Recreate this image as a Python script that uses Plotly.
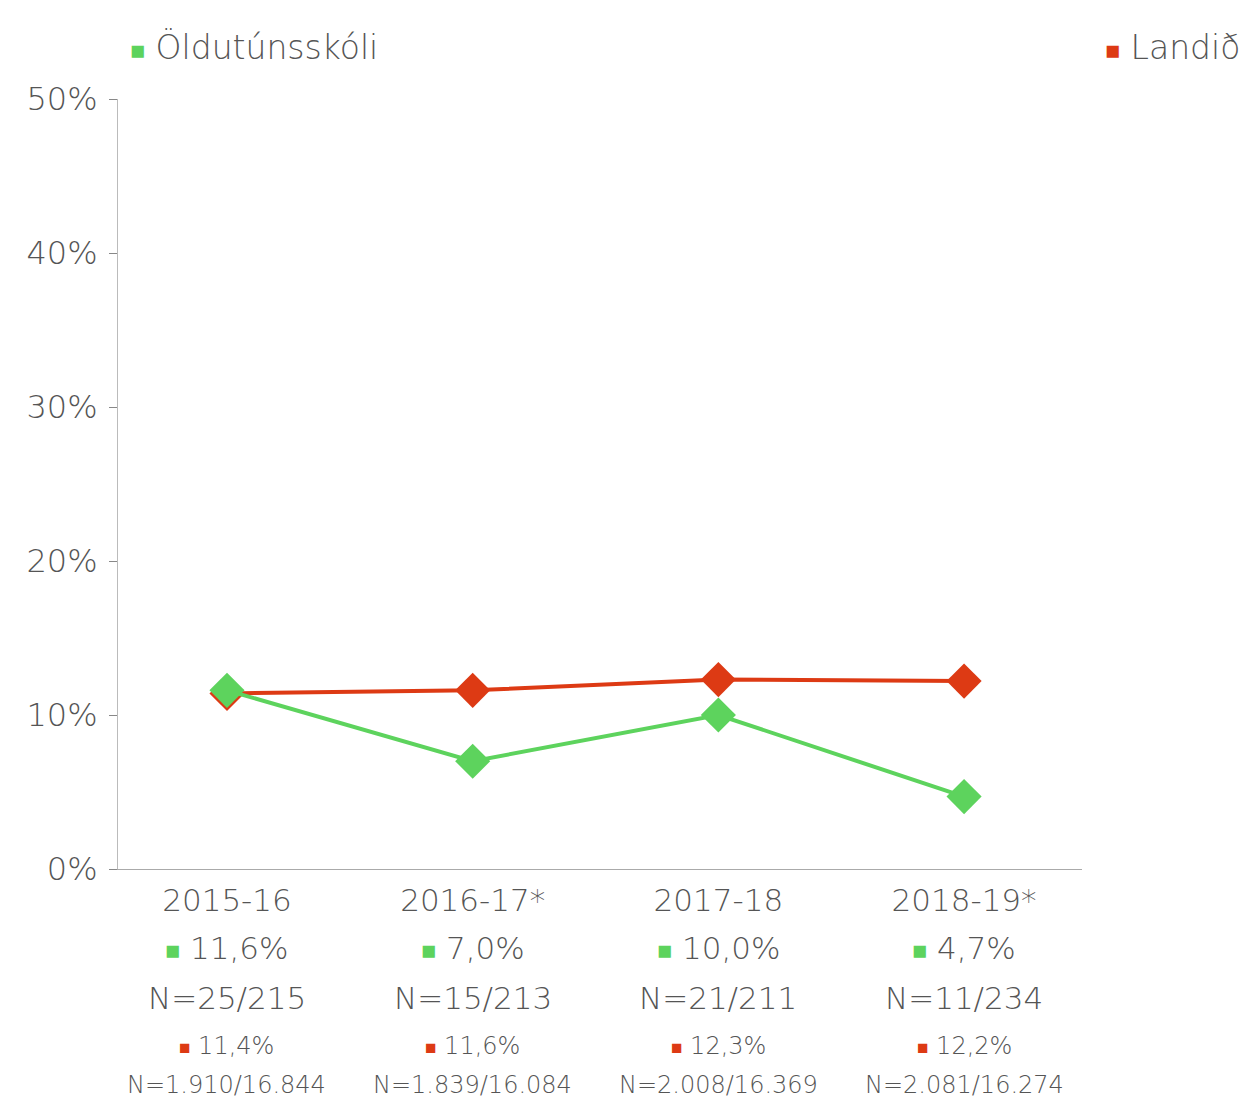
import plotly.graph_objects as go

categories = ["2015-16", "2016-17*", "2017-18", "2018-19*"]
school_name = "Öldutúnsskóli"
country_name = "Landið"
school_values = [11.6, 7.0, 10.0, 4.7]
country_values = [11.4, 11.6, 12.3, 12.2]
school_n = ["N=25/215", "N=15/213", "N=21/211", "N=11/234"]
country_n = ["N=1.910/16.844", "N=1.839/16.084", "N=2.008/16.369", "N=2.081/16.274"]
y_ticks = [0, 10, 20, 30, 40, 50]

GREEN = "#5dd35d"
RED = "#dd3a14"
TEXT = "#555555"
FONT = "DejaVu Sans"

def fmt(v):
    return f"{v:.1f}".replace(".", ",") + "%"

x_idx = list(range(len(categories)))

fig = go.Figure()
fig.add_trace(go.Scatter(
    x=x_idx, y=country_values, mode="lines+markers", name=country_name,
    line=dict(color=RED, width=4),
    marker=dict(symbol="diamond", size=27, color=RED),
))
fig.add_trace(go.Scatter(
    x=x_idx, y=school_values, mode="lines+markers", name=school_name,
    line=dict(color=GREEN, width=4),
    marker=dict(symbol="diamond", size=27, color=GREEN),
))

annotations = []
for i in x_idx:
    rows = [
        (f"<span style='font-size:25px;color:{GREEN}'>■</span> {fmt(school_values[i])}", 31, -79),
        (school_n[i], 31, -129),
        (f"<span style='font-size:19px;color:{RED}'>■</span> {fmt(country_values[i])}", 24, -177),
        (country_n[i], 24, -216),
    ]
    for txt, fs, ys in rows:
        annotations.append(dict(
            x=i, y=0, xref="x", yref="paper", text=txt, showarrow=False,
            xanchor="center", yanchor="middle", yshift=ys,
            font=dict(family=FONT, size=fs, color=TEXT, weight=200),
        ))

annotations.append(dict(
    x=0.0104, y=1.0675, xref="paper", yref="paper", xanchor="left", yanchor="middle",
    showarrow=False,
    text=f"<span style='font-size:25px;color:{GREEN}'>■</span> {school_name}",
    font=dict(family=FONT, size=33, color=TEXT, weight=200),
))
annotations.append(dict(
    x=1.0218, y=1.0675, xref="paper", yref="paper", xanchor="left", yanchor="middle",
    showarrow=False,
    text=f"<span style='font-size:25px;color:{RED}'>■</span> {country_name}",
    font=dict(family=FONT, size=33, color=TEXT, weight=200),
))

fig.update_layout(
    width=1242, height=1090,
    margin=dict(l=110, r=168, t=91, b=229),
    plot_bgcolor="white", paper_bgcolor="white",
    showlegend=False,
    annotations=annotations,
    font=dict(family=FONT, color=TEXT, weight=200),
)
fig.update_xaxes(
    range=[-0.4436, 3.48],
    tickmode="array", tickvals=x_idx, ticktext=categories,
    tickfont=dict(family=FONT, size=31, color=TEXT, weight=200),
    showline=True, linecolor="#aaaaaa", linewidth=1,
    showgrid=False, zeroline=False, ticks="", ticklabelstandoff=4,
)
fig.update_yaxes(
    range=[0, 50],
    tickmode="array", tickvals=y_ticks, ticktext=[f"{v}%" for v in y_ticks],
    tickfont=dict(family=FONT, size=32, color=TEXT, weight=200),
    showline=True, linecolor="#bbbbbb", linewidth=1,
    ticks="outside", ticklen=8, tickcolor="#888888",
    ticklabelstandoff=5,
    showgrid=False, zeroline=False,
)

fig.write_html("out.html")
